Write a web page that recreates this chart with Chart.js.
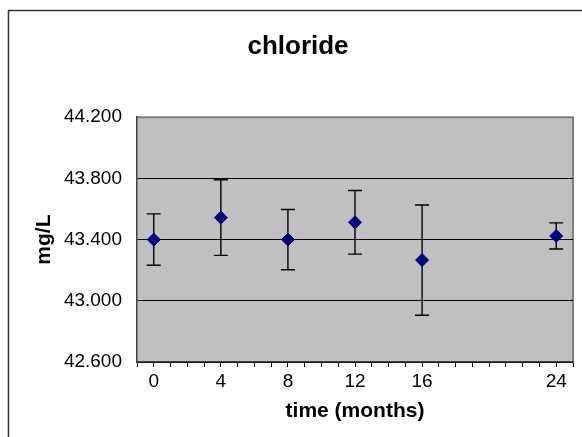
<!DOCTYPE html>
<html>
<head>
<meta charset="utf-8">
<script src="https://cdn.jsdelivr.net/npm/chart.js@4/dist/chart.umd.min.js"></script>
<style>
  html, body { margin: 0; padding: 0; background: #fff; }
  canvas { display: block; }
</style>
</head>
<body>
<canvas id="chlorideChart" width="582" height="437"></canvas>
<script>
const months = [0, 4, 8, 12, 16, 24];
const means = [43.400, 43.544, 43.400, 43.513, 43.266, 43.424];
const errors = [0.168, 0.247, 0.197, 0.208, 0.360, 0.085];
const xTickLabels = [0, 4, 8, 12, 16, 24];
const yTicks = [42.6, 43.0, 43.4, 43.8, 44.2];

const FONT = "'Liberation Sans', Arial, sans-serif";

// frame around the whole chart + grey plot background
const backgroundPlugin = {
    id: 'background',
    beforeDraw(chart) {
        const { ctx, chartArea } = chart;
        ctx.save();
        ctx.strokeStyle = '#333333';
        ctx.lineWidth = 1.5;
        ctx.beginPath();
        ctx.moveTo(8.5, 437);
        ctx.lineTo(8.5, 10.5);
        ctx.lineTo(582, 10.5);
        ctx.stroke();

        ctx.fillStyle = '#C0C0C0';
        ctx.fillRect(chartArea.left, chartArea.top, chartArea.right - chartArea.left, chartArea.bottom - chartArea.top);
        ctx.strokeStyle = '#808080';
        ctx.lineWidth = 2;
        ctx.beginPath();
        ctx.moveTo(chartArea.left, chartArea.top);
        ctx.lineTo(chartArea.right, chartArea.top);
        ctx.lineTo(chartArea.right, chartArea.bottom);
        ctx.stroke();
        ctx.restore();
    }
};

// vertical error bars with caps, drawn under the markers
const errorBarPlugin = {
    id: 'errorBars',
    beforeDatasetsDraw(chart) {
        const { ctx } = chart;
        const x = chart.scales.x;
        const y = chart.scales.y;
        ctx.save();
        ctx.strokeStyle = '#000000';
        ctx.lineWidth = 1.4;
        months.forEach((m, i) => {
            const px = x.getPixelForValue(m);
            const top = y.getPixelForValue(means[i] + errors[i]);
            const bottom = y.getPixelForValue(means[i] - errors[i]);
            ctx.beginPath();
            ctx.moveTo(px, top);
            ctx.lineTo(px, bottom);
            ctx.moveTo(px - 7, top);
            ctx.lineTo(px + 7, top);
            ctx.moveTo(px - 7, bottom);
            ctx.lineTo(px + 7, bottom);
            ctx.stroke();
        });
        ctx.restore();
    }
};

const ctx = document.getElementById('chlorideChart').getContext('2d');
new Chart(ctx, {
    type: 'scatter',
    data: {
        datasets: [{
            label: 'chloride',
            data: months.map((m, i) => ({ x: m, y: means[i] })),
            pointStyle: 'rectRot',
            pointRadius: 6.5,
            pointHoverRadius: 6.5,
            backgroundColor: '#000080',
            borderColor: '#000080',
            borderWidth: 1,
            showLine: false
        }]
    },
    options: {
        responsive: false,
        animation: false,
        layout: { padding: { left: 23, right: 9, top: 0, bottom: 0 } },
        plugins: {
            legend: { display: false },
            tooltip: { enabled: false },
            title: {
                display: true,
                text: 'chloride',
                color: '#000',
                font: { family: FONT, size: 26, weight: 'bold' },
                padding: { top: 31, bottom: 55 }
            }
        },
        scales: {
            x: {
                type: 'linear',
                min: -1,
                max: 25,
                afterFit: scale => { scale.height = 75; },
                afterBuildTicks: scale => {
                    const t = [];
                    for (let v = -1; v <= 25; v++) t.push({ value: v });
                    scale.ticks = t;
                },
                ticks: {
                    autoSkip: false,
                    maxRotation: 0,
                    padding: 3,
                    color: '#000',
                    font: { family: FONT, size: 19 },
                    callback: v => xTickLabels.includes(v) ? String(v) : ''
                },
                grid: {
                    drawOnChartArea: false,
                    drawTicks: true,
                    tickLength: 5,
                    color: '#000',
                    tickColor: '#000'
                },
                border: { color: '#404040', width: 1.5 },
                title: {
                    display: true,
                    text: 'time (months)',
                    color: '#000',
                    font: { family: FONT, size: 21, weight: 'bold' },
                    padding: { top: 0, bottom: 13 }
                }
            },
            y: {
                min: 42.6,
                max: 44.2,
                afterFit: scale => { scale.width = 114; },
                afterBuildTicks: scale => {
                    scale.ticks = yTicks.map(v => ({ value: v }));
                },
                ticks: {
                    padding: 15,
                    color: '#000',
                    font: { family: FONT, size: 19 },
                    callback: v => v.toFixed(3)
                },
                grid: {
                    drawTicks: false,
                    lineWidth: 1,
                    color: c => (c.tick && c.tick.value > 44.1) ? 'rgba(0,0,0,0)' : '#000'
                },
                border: { color: '#404040', width: 1.5 },
                title: {
                    display: true,
                    text: 'mg/L',
                    color: '#000',
                    font: { family: FONT, size: 21, weight: 'bold' },
                    padding: { top: 9, bottom: 0 }
                }
            }
        }
    },
    plugins: [backgroundPlugin, errorBarPlugin]
});
</script>
</body>
</html>
